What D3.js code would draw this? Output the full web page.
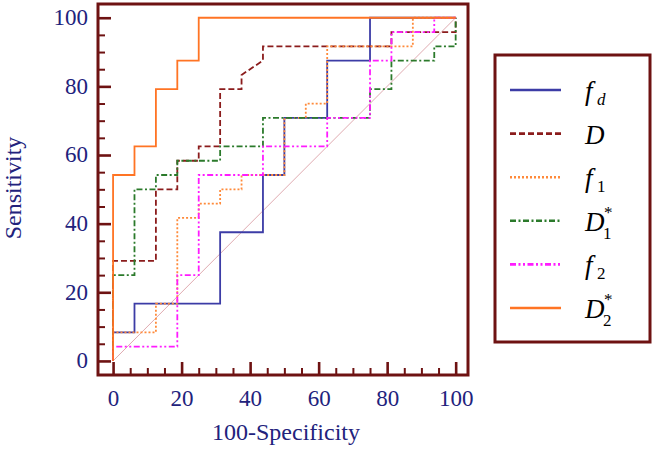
<!DOCTYPE html>
<html>
<head>
<meta charset="utf-8">
<script src="https://cdn.jsdelivr.net/npm/d3@7"></script>
<style>
  body { margin: 0; background: #fff; }
  svg { display: block; }
</style>
</head>
<body>
<div id="roc"></div>
<script>
// ROC curve vertices (x = 100-specificity, y = sensitivity)
var fdX  = [0, 0, 6.25, 6.25, 31.25, 31.25, 43.75, 43.75, 50, 50, 62.5, 62.5, 75, 75, 100];
var fdY  = [0, 8.33, 8.33, 16.67, 16.67, 37.5, 37.5, 54.17, 54.17, 70.83, 70.83, 87.5, 87.5, 100, 100];
var dX   = [0, 0, 12.5, 12.5, 18.75, 18.75, 25, 25, 31.25, 31.25, 37.5, 37.5, 43.75, 43.75, 81.25, 81.25, 100, 100];
var dY   = [0, 29.17, 29.17, 50, 50, 58.33, 58.33, 62.5, 62.5, 79.17, 79.17, 83.33, 87.5, 91.67, 91.67, 95.83, 95.83, 100];
var f1X  = [0, 0, 12.5, 12.5, 18.75, 18.75, 25, 25, 31.25, 31.25, 37.5, 37.5, 50, 50, 56.25, 56.25, 62.5, 62.5, 87.5, 87.5, 100];
var f1Y  = [0, 8.33, 8.33, 16.67, 16.67, 41.67, 41.67, 45.83, 45.83, 50, 50, 54.17, 54.17, 70.83, 70.83, 75, 75, 91.67, 91.67, 100, 100];
var d1X  = [0, 0, 6.25, 6.25, 12.5, 12.5, 18.75, 18.75, 31.25, 31.25, 43.75, 43.75, 75, 75, 81.25, 81.25, 93.75, 93.75, 100, 100];
var d1Y  = [0, 25, 25, 50, 50, 54.17, 54.17, 58.33, 58.33, 62.5, 62.5, 70.83, 70.83, 79.17, 79.17, 87.5, 87.5, 91.67, 91.67, 100];
var f2X  = [0, 0, 18.75, 18.75, 25, 25, 43.75, 43.75, 62.5, 62.5, 75, 75, 81.25, 81.25, 93.75, 93.75, 100];
var f2Y  = [0, 4.17, 4.17, 25, 25, 54.17, 54.17, 62.5, 62.5, 70.83, 70.83, 87.5, 87.5, 95.83, 95.83, 100, 100];
var d2X  = [0, 0, 6.25, 6.25, 12.5, 12.5, 18.75, 18.75, 25, 25, 100];
var d2Y  = [0, 54.17, 54.17, 62.5, 62.5, 79.17, 79.17, 87.5, 87.5, 100, 100];

var majorTicks = [0, 20, 40, 60, 80, 100];
var minorTicks = [5, 10, 15, 25, 30, 35, 45, 50, 55, 65, 70, 75, 85, 90, 95];
var xTitle = "100-Specificity";
var yTitle = "Sensitivity";

var series = [
    {main: "f", sub: "d", subItalic: true,  sup: "",  xs: fdX, ys: fdY, color: "#3c3ca6", dash: null},
    {main: "D", sub: "",  subItalic: false, sup: "",  xs: dX,  ys: dY,  color: "#8b1c1c", dash: "6,3"},
    {main: "f", sub: "1", subItalic: false, sup: "",  xs: f1X, ys: f1Y, color: "#ff8a3a", dash: "2,2"},
    {main: "D", sub: "1", subItalic: false, sup: "*", xs: d1X, ys: d1Y, color: "#2b7a2b", dash: "6,2.5,2,2.5"},
    {main: "f", sub: "2", subItalic: false, sup: "",  xs: f2X, ys: f2Y, color: "#ff1cff", dash: "6,2.5,2,2.5,2,2.5"},
    {main: "D", sub: "2", subItalic: false, sup: "*", xs: d2X, ys: d2Y, color: "#ff7424", dash: null}
];

var frameColor = "#6e1212";
var textColor = "#22227c";
var serif = "'Liberation Serif', 'Times New Roman', serif";

var svg = d3.select("#roc").append("svg").attr("width", 654).attr("height", 451);

var x = d3.scaleLinear().domain([-4.4, 103.6]).range([98, 468]);
var y = d3.scaleLinear().domain([-4.1, 104]).range([375, 4]);

// diagonal reference
svg.append("line")
    .attr("x1", x(0)).attr("y1", y(0)).attr("x2", x(100)).attr("y2", y(100))
    .attr("stroke", "#dfaab0").attr("stroke-width", 1);

var line = d3.line().x(function(p){ return x(p[0]); }).y(function(p){ return y(p[1]); });

series.forEach(function(s){
    var pts = s.xs.map(function(v, i){ return [v, s.ys[i]]; });
    svg.append("path").attr("d", line(pts))
        .attr("fill", "none").attr("stroke", s.color).attr("stroke-width", 1.8)
        .attr("stroke-dasharray", s.dash);
});

// axes, ticks pointing inward
function styleAxis(g){
    g.select(".domain").remove();
    g.selectAll(".tick line").attr("stroke", frameColor);
    g.selectAll("text").attr("fill", textColor).style("font-family", serif).style("font-size", "23px");
}

svg.append("g").attr("transform", "translate(0,375)")
    .call(d3.axisBottom(x).tickValues(minorTicks).tickSize(-7).tickFormat(""))
    .call(styleAxis).selectAll(".tick line").attr("stroke-width", 2);
svg.append("g").attr("transform", "translate(0,375)")
    .call(d3.axisBottom(x).tickValues(majorTicks).tickSize(-13).tickPadding(15))
    .call(styleAxis).selectAll(".tick line").attr("stroke-width", 2.6);

svg.append("g").attr("transform", "translate(98,0)")
    .call(d3.axisLeft(y).tickValues(minorTicks).tickSize(-7).tickFormat(""))
    .call(styleAxis).selectAll(".tick line").attr("stroke-width", 2);
var yax = svg.append("g").attr("transform", "translate(98,0)")
    .call(d3.axisLeft(y).tickValues(majorTicks).tickSize(-13).tickPadding(10))
    .call(styleAxis);
yax.selectAll(".tick line").attr("stroke-width", 2.6);
yax.selectAll("text").attr("dy", "0.3em");

// frame
svg.append("rect").attr("x", 98).attr("y", 4).attr("width", 370).attr("height", 371)
    .attr("fill", "none").attr("stroke", frameColor).attr("stroke-width", 3);

// axis titles
svg.append("text").attr("x", 286).attr("y", 440).attr("text-anchor", "middle")
    .attr("fill", textColor).style("font-family", serif).style("font-size", "24px").text(xTitle);
svg.append("text").attr("transform", "translate(21,188) rotate(-90)").attr("text-anchor", "middle")
    .attr("fill", textColor).style("font-family", serif).style("font-size", "24px").text(yTitle);

// legend
var legend = svg.append("g");
legend.append("rect").attr("x", 495).attr("y", 55).attr("width", 155).attr("height", 287)
    .attr("fill", "#fff").attr("stroke", frameColor).attr("stroke-width", 3);

var ly = d3.scalePoint().domain(d3.range(series.length)).range([90, 308]);

series.forEach(function(s, i){
    var yy = ly(i);
    var isD = s.main === "D";
    legend.append("line").attr("x1", 510).attr("x2", 561).attr("y1", yy).attr("y2", yy)
        .attr("stroke", s.color).attr("stroke-width", 2.6).attr("stroke-dasharray", s.dash);
    // one text element per label: main letter, then stacked super/subscript
    var t = legend.append("text").attr("x", 585).attr("y", yy + 10)
        .style("font-family", serif).attr("fill", "#000");
    t.append("tspan").style("font-style", "italic").style("font-size", "27px").text(s.main);
    if (s.sup) {
        t.append("tspan").attr("x", 604).attr("y", yy - 3).style("font-size", "17px").text(s.sup);
    }
    if (s.sub) {
        t.append("tspan").attr("x", isD ? 603 : 597).attr("y", yy + (isD ? 18 : 15))
            .style("font-style", s.subItalic ? "italic" : "normal")
            .style("font-size", "17px").text(s.sub);
    }
});
</script>
</body>
</html>
